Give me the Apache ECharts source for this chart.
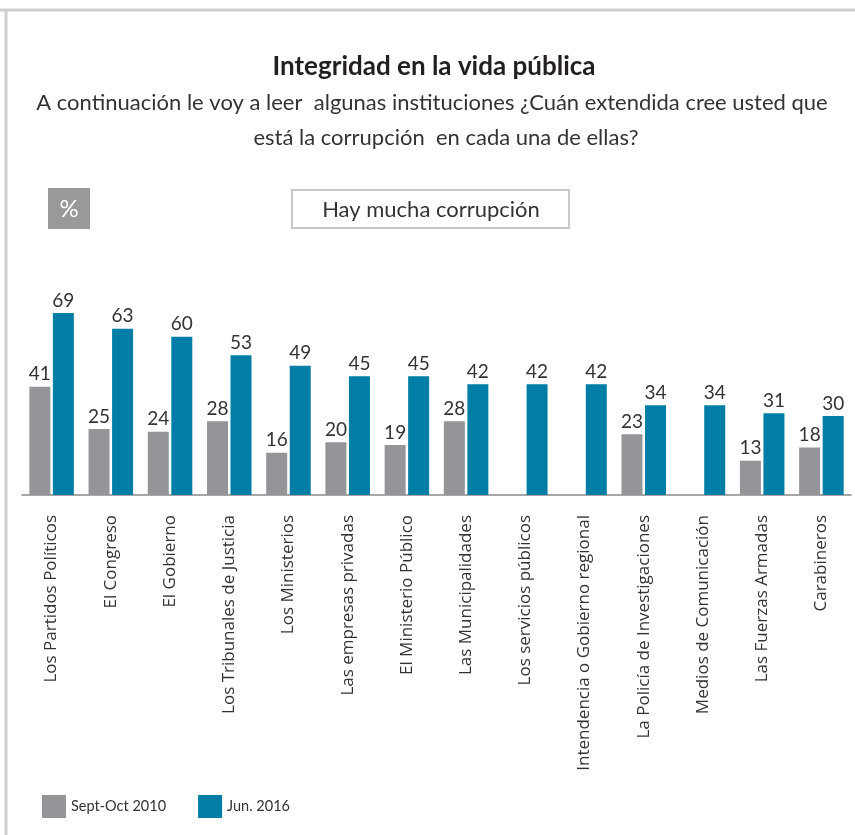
<!DOCTYPE html>
<html><head><meta charset="utf-8">
<script src="https://cdn.jsdelivr.net/npm/echarts@6/dist/echarts.min.js"></script>
<style>html,body{margin:0;padding:0;background:#fff}#c{width:855px;height:835px}</style>
</head><body><div id="c"></div>
<script>
const categories = ["Los Partidos Políticos","El Congreso","El Gobierno","Los Tribunales de Justicia","Los Ministerios","Las empresas privadas","El Ministerio Público","Las Municipalidades","Los servicios públicos","Intendencia o Gobierno regional","La Policía de Investigaciones","Medios de Comunicación","Las Fuerzas Armadas","Carabineros"];
const series2010 = [41,25,24,28,16,20,19,28,null,null,23,null,13,18];
const series2016 = [69,63,60,53,49,45,45,42,42,42,34,34,31,30];
const seriesNames = ["Sept-Oct 2010","Jun. 2016"];
const titleText = 'Integridad en la vida pública';
const subtitleLines = ['A continuación le voy a leer  algunas instituciones ¿Cuán extendida cree usted que','está la corrupción  en cada una de ellas?'];
const FONT = "Lato, 'Open Sans', sans-serif";
const LFONT = "'Open Sans', Lato, sans-serif";
const chart = echarts.init(document.getElementById('c'), null, {renderer:'canvas'});
chart.setOption({
  backgroundColor:'#fff',
  animation:false,
  graphic:[
    {type:'line', shape:{x1:0,y1:10,x2:855,y2:10}, style:{stroke:'#cfcfcf', lineWidth:3}},
    {type:'line', shape:{x1:6,y1:10,x2:6,y2:835}, style:{stroke:'#cfcfcf', lineWidth:3}},
    {type:'text', x:434, y:67, style:{text:titleText, fill:'#231f20', font:'bold 26px '+FONT, textAlign:'center', textVerticalAlign:'middle'}},
    {type:'text', x:432, y:103, style:{text:subtitleLines[0], fill:'#333', font:'22px '+FONT, textAlign:'center', textVerticalAlign:'middle'}},
    {type:'text', x:446, y:138, style:{text:subtitleLines[1], fill:'#333', font:'22px '+FONT, textAlign:'center', textVerticalAlign:'middle'}},
    {type:'rect', shape:{x:48,y:188,width:42,height:41}, style:{fill:'#98999b'}},
    {type:'text', x:69, y:209, style:{text:'%', fill:'#fff', font:'24px '+FONT, textAlign:'center', textVerticalAlign:'middle'}},
    {type:'rect', shape:{x:292,y:190,width:277,height:38}, style:{fill:'#fff', stroke:'#c8c8c8', lineWidth:2}},
    {type:'text', x:431, y:210, style:{text:'Hay mucha corrupción', fill:'#333', font:'22px '+FONT, textAlign:'center', textVerticalAlign:'middle'}}
  ],
  legend:{
    left:37, top:790, itemWidth:24, itemHeight:23, itemGap:32,
    icon:'rect',
    data:seriesNames,
    textStyle:{fontFamily:FONT, fontSize:14.5, color:'#333'}
  },
  grid:{left:22, right:4, top:284, bottom:340, containLabel:false},
  xAxis:{
    type:'category', data:categories,
    axisLine:{lineStyle:{color:'#8a8a8a', width:1.5}},
    axisTick:{show:false},
    axisLabel:{rotate:90, interval:0, margin:20, fontFamily:LFONT, fontSize:17, color:'#333'}
  },
  yAxis:{type:'value', min:0, max:80, show:false, splitLine:{show:false}},
  series:[
    {name:seriesNames[0], type:'bar', data:series2010, barWidth:21, barGap:'12%',
     itemStyle:{color:'#939598'},
     label:{show:true, position:'top', distance:3, fontFamily:FONT, fontSize:19, color:'#333'}},
    {name:seriesNames[1], type:'bar', data:series2016, barWidth:21,
     itemStyle:{color:'#007ea6'},
     label:{show:true, position:'top', distance:3, fontFamily:FONT, fontSize:19, color:'#333'}}
  ]
});
</script></body></html>
